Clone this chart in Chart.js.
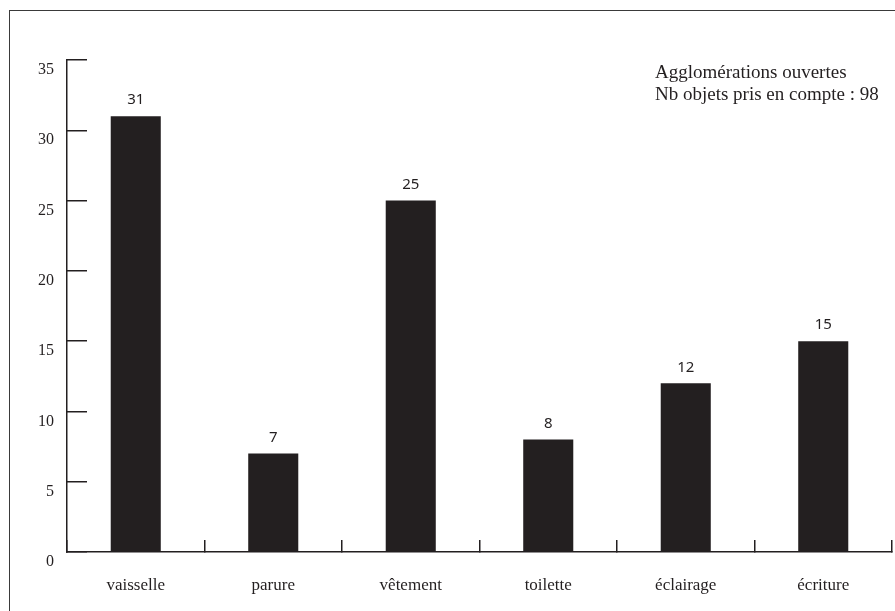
<!DOCTYPE html>
<html>
<head>
<meta charset="utf-8">
<script src="https://cdn.jsdelivr.net/npm/chart.js@4.4.0/dist/chart.umd.min.js"></script>
<style>
  html, body { margin: 0; padding: 0; overflow: hidden; background: #fff; }
  #wrap { position: relative; width: 895px; height: 611px; overflow: hidden; }
  #frame { position: absolute; left: 9px; top: 10px; width: 920px; height: 640px;
           border-left: 1.5px solid #3a3a3a; border-top: 1.5px solid #3a3a3a; }
  canvas { position: absolute; left: 0; top: 0; }
</style>
</head>
<body>
<div id="wrap">
  <div id="frame"></div>
  <canvas id="myChart" width="895" height="611"></canvas>
</div>
<script>
// data
const categories = ['vaisselle', 'parure', 'vêtement', 'toilette', 'éclairage', 'écriture'];
const counts = [31, 7, 25, 8, 12, 15];
const yMin = 0;
const yMax = 35;
const yStep = 5;
const noteLines = ['Agglomérations ouvertes', 'Nb objets pris en compte : 98'];

const ink = '#231f20';

// numbers above each bar
const valueLabels = {
  id: 'valueLabels',
  afterDatasetsDraw(chart) {
    const ctx = chart.ctx;
    const meta = chart.getDatasetMeta(0);
    ctx.save();
    ctx.fillStyle = ink;
    ctx.font = '15px "Noto Sans"';
    ctx.textAlign = 'center';
    ctx.textBaseline = 'middle';
    meta.data.forEach((bar, i) => {
      ctx.fillText(String(counts[i]), bar.x, bar.y - 16);
    });
    ctx.restore();
  }
};

// the two-line note at top right
const note = {
  id: 'note',
  afterDraw(chart) {
    const ctx = chart.ctx;
    ctx.save();
    ctx.fillStyle = ink;
    ctx.font = '19px "Liberation Serif"';
    ctx.textAlign = 'left';
    ctx.textBaseline = 'middle';
    noteLines.forEach((line, i) => {
      ctx.fillText(line, 655, 73 + i * 22);
    });
    ctx.restore();
  }
};

const ctx = document.getElementById('myChart').getContext('2d');
const myChart = new Chart(ctx, {
  type: 'bar',
  data: {
    labels: categories,
    datasets: [{
      data: counts,
      backgroundColor: ink,
      borderWidth: 0,
      barPercentage: 0.364,
      categoryPercentage: 1
    }]
  },
  options: {
    responsive: false,
    animation: false,
    layout: { padding: { top: 60, right: 3, left: 0, bottom: 0 } },
    plugins: {
      legend: { display: false },
      tooltip: { enabled: false }
    },
    scales: {
      x: {
        afterFit(scale) { scale.height = 59; },
        grid: {
          offset: true,
          drawOnChartArea: false,
          drawTicks: true,
          tickLength: -12,
          color: ink,
          lineWidth: 1.5
        },
        border: { display: true, color: ink, width: 1.5 },
        ticks: {
          padding: 35,
          color: ink,
          font: { family: 'Liberation Serif', size: 17 }
        }
      },
      y: {
        min: yMin,
        max: yMax,
        afterFit(scale) { scale.width = 67; },
        grid: {
          drawOnChartArea: false,
          drawTicks: true,
          tickLength: -20,
          color: ink,
          lineWidth: 1.5
        },
        border: { display: true, color: ink, width: 1.5 },
        ticks: {
          stepSize: yStep,
          padding: 33,
          labelOffset: 10,
          color: ink,
          font: { family: 'Liberation Serif', size: 16 }
        }
      }
    }
  },
  plugins: [valueLabels, note]
});
</script>
</body>
</html>
